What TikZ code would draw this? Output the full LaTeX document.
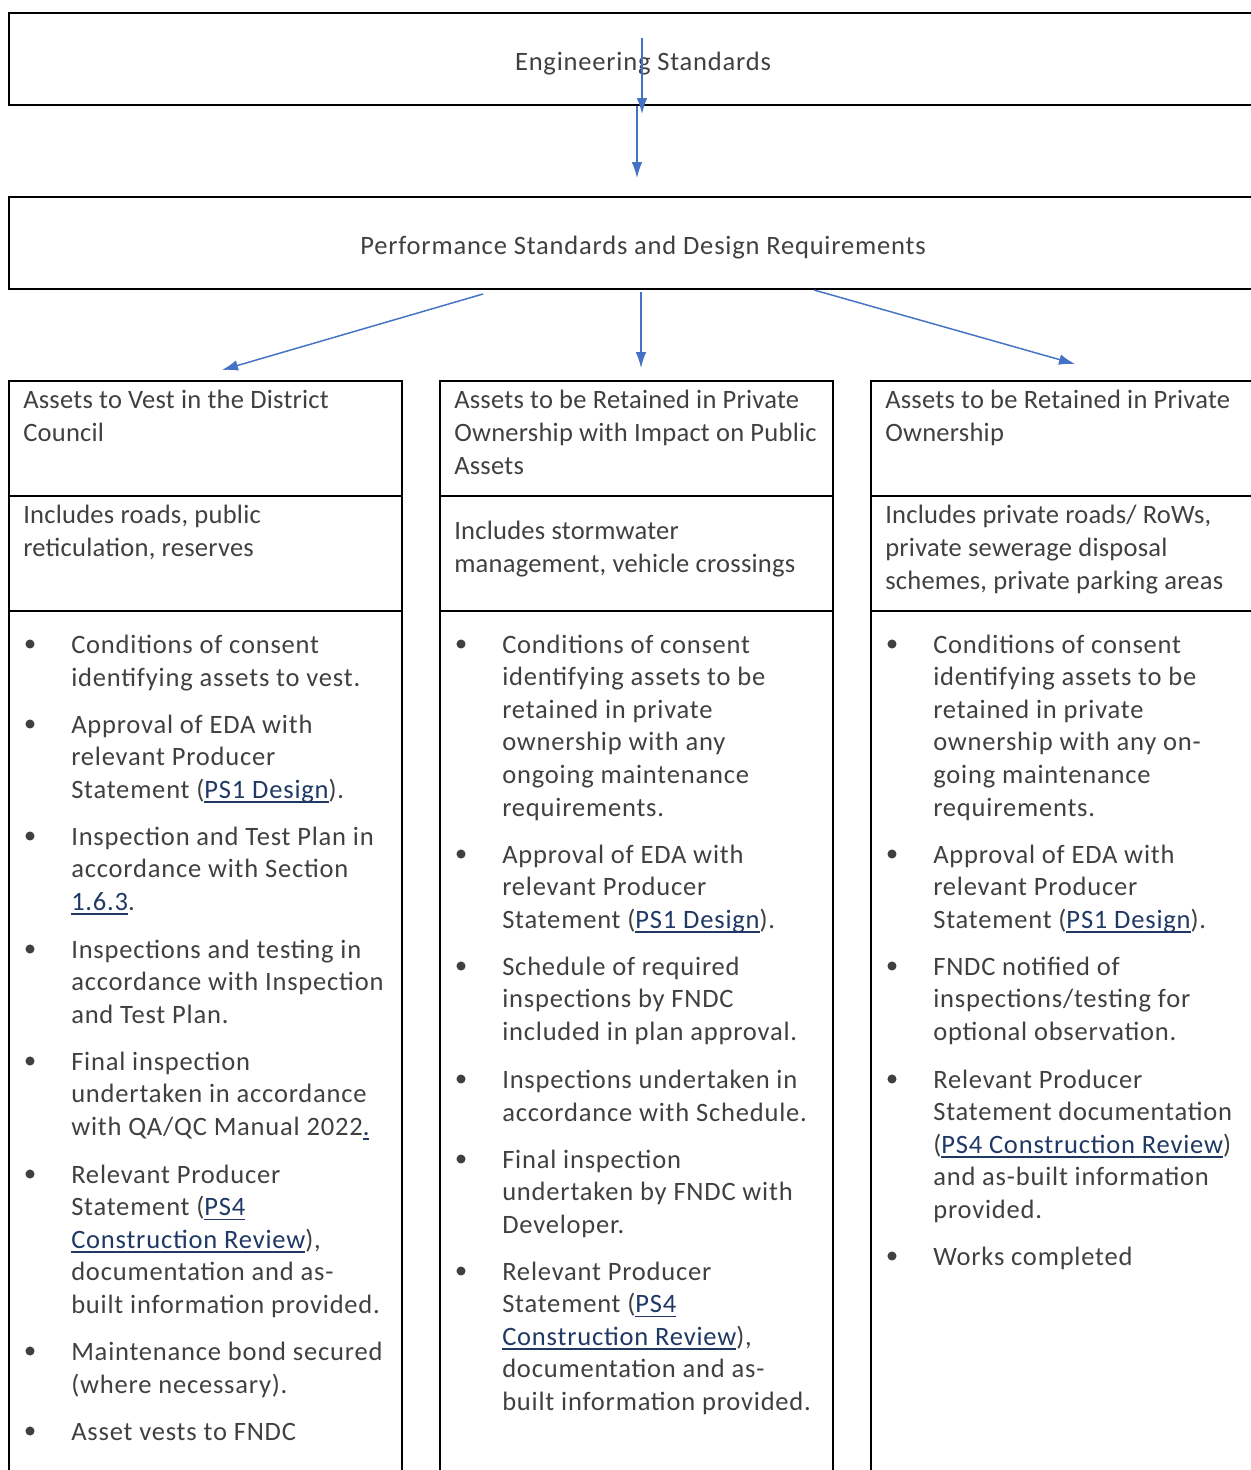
\documentclass[tikz,border=0pt]{standalone}
\usepackage{fontspec}
\setmainfont[LetterSpace=3]{Carlito}
\newfontfamily\hdfamily[LetterSpace=0.9]{Carlito}
\usetikzlibrary{arrows.meta}
\definecolor{txtc}{HTML}{404040}
\definecolor{linkc}{HTML}{1F3864}
\definecolor{arrc}{HTML}{4472C4}
\newcommand\bodyfont{\fontsize{19.9}{24.4}\selectfont}
\newcommand\headfont{\hdfamily\fontsize{19.9}{24.4}\selectfont}
\newcommand\lnk[1]{\textcolor{linkc}{\setbox0\hbox{#1}\rlap{\rule[-3.2pt]{\wd0}{1.1pt}}\box0}}
% note: for multi-line nodes the base anchor is the baseline of the LAST line
\tikzset{
  txt/.style={anchor=base west, align=left, inner sep=0pt, text=txtc, font=\bodyfont},
  htxt/.style={txt, font=\headfont},
  ctxt/.style={anchor=base, inner sep=0pt, text=txtc, font=\bodyfont},
  boxline/.style={draw=black, line width=1.6pt},
  bul/.style={circle, fill=txtc, inner sep=0pt, minimum size=6.8pt},
  arr/.style={draw=arrc, line width=1.1pt, -{Latex[length=12pt,width=8pt]}}
}
\begin{document}
\begin{tikzpicture}[x=0.75pt,y=-0.75pt]
\useasboundingbox (0,0) rectangle (1251,1470);
\clip (0,0) rectangle (1251,1470);
% boxes
\draw[boxline] (9,13) rectangle (1262,105);
\draw[boxline] (9,197) rectangle (1262,289);
\draw[boxline] (9,381) rectangle (402,1480);
\draw[boxline] (440,381) rectangle (833,1480);
\draw[boxline] (871,381) rectangle (1262,1480);
\draw[boxline] (9,496) -- (402,496) (440,496) -- (833,496) (871,496) -- (1262,496);
\draw[boxline] (9,611) -- (402,611) (440,611) -- (833,611) (871,611) -- (1262,611);
% top texts
\node[ctxt] (eng) at (643,70) {Engineering Standards};
\node[ctxt] (perf) at (643,254) {Performance Standards and Design Requirements};
% arrows
\coordinate (a1s) at (642,38); \coordinate (a1e) at (642,114);
\coordinate (a2s) at (637,106); \coordinate (a2e) at (637,178);
\coordinate (b1s) at (483,294); \coordinate (b1e) at (222,370);
\coordinate (b2s) at (641,292); \coordinate (b2e) at (641,368);
\coordinate (b3s) at (814,290); \coordinate (b3e) at (1075,364);
\draw[arr] (a1s) -- (a1e);
\draw[arr] (a2s) -- (a2e);
\draw[arr] (b1s) -- (b1e);
\draw[arr] (b2s) -- (b2e);
\draw[arr] (b3s) -- (b3e);
% headers
\node[htxt] (h1) at (23,441.5) {Assets to Vest in the District\\Council};
\node[htxt] (h2) at (454,474) {Assets to be Retained in Private\\Ownership with Impact on Public\\Assets};
\node[htxt] (h3) at (885,441.5) {Assets to be Retained in Private\\Ownership};
\node[htxt] (i1) at (23,556.5) {Includes roads, public\\reticulation, reserves};
\node[htxt] (i2) at (454,572.5) {Includes stormwater\\management, vehicle crossings};
\node[htxt] (i3) at (885,589) {Includes private roads/ RoWs,\\private sewerage disposal\\schemes, private parking areas};
% column 1
\foreach \y/\n in {644/1,724/2,836/3,949/4,1061/5,1174/6,1351/7,1431/8}
  \node[bul] (ba\n) at (30,\y) {};
\node[txt] (c1a) at (71,686) {Conditions of consent\\identifying assets to vest.};
\node[txt] (c1b) at (71,798.5) {Approval of EDA with\\relevant Producer\\Statement (\lnk{PS1 Design}).};
\node[txt] (c1c) at (71,910.5) {Inspection and Test Plan in\\accordance with Section\\\lnk{1.6.3}.};
\node[txt] (c1d) at (71,1023.5) {Inspections and testing in\\accordance with Inspection\\and Test Plan.};
\node[txt] (c1e) at (71,1135.5) {Final inspection\\undertaken in accordance\\with QA/QC Manual 2022\lnk{.}};
\node[txt] (c1f) at (71,1313.5) {Relevant Producer\\Statement (\lnk{PS4}\\\lnk{Construction Review}),\\documentation and as-\\built information provided.};
\node[txt] (c1g) at (71,1393) {Maintenance bond secured\\(where necessary).};
\node[txt] (c1h) at (71,1440.5) {Asset vests to FNDC};
% column 2
\foreach \y/\n in {644/1,854/2,966/3,1079/4,1159/5,1271/6}
  \node[bul] (bb\n) at (461,\y) {};
\node[txt] (c2a) at (502,816) {Conditions of consent\\identifying assets to be\\retained in private\\ownership with any\\ongoing maintenance\\requirements.};
\node[txt] (c2b) at (502,928.5) {Approval of EDA with\\relevant Producer\\Statement (\lnk{PS1 Design}).};
\node[txt] (c2c) at (502,1040.5) {Schedule of required\\inspections by FNDC\\included in plan approval.};
\node[txt] (c2d) at (502,1121) {Inspections undertaken in\\accordance with Schedule.};
\node[txt] (c2e) at (502,1233.5) {Final inspection\\undertaken by FNDC with\\Developer.};
\node[txt] (c2f) at (502,1410.5) {Relevant Producer\\Statement (\lnk{PS4}\\\lnk{Construction Review}),\\documentation and as-\\built information provided.};
% column 3
\foreach \y/\n in {644/1,854/2,966/3,1079/4,1256/5}
  \node[bul] (bc\n) at (892,\y) {};
\node[txt] (c3a) at (933,816) {Conditions of consent\\identifying assets to be\\retained in private\\ownership with any on-\\going maintenance\\requirements.};
\node[txt] (c3b) at (933,928.5) {Approval of EDA with\\relevant Producer\\Statement (\lnk{PS1 Design}).};
\node[txt] (c3c) at (933,1040.5) {FNDC notified of\\inspections/testing for\\optional observation.};
\node[txt] (c3d) at (933,1218.5) {Relevant Producer\\Statement documentation\\(\lnk{PS4 Construction Review})\\and as-built information\\provided.};
\node[txt] (c3e) at (933,1265.5) {Works completed};
\end{tikzpicture}
\end{document}
